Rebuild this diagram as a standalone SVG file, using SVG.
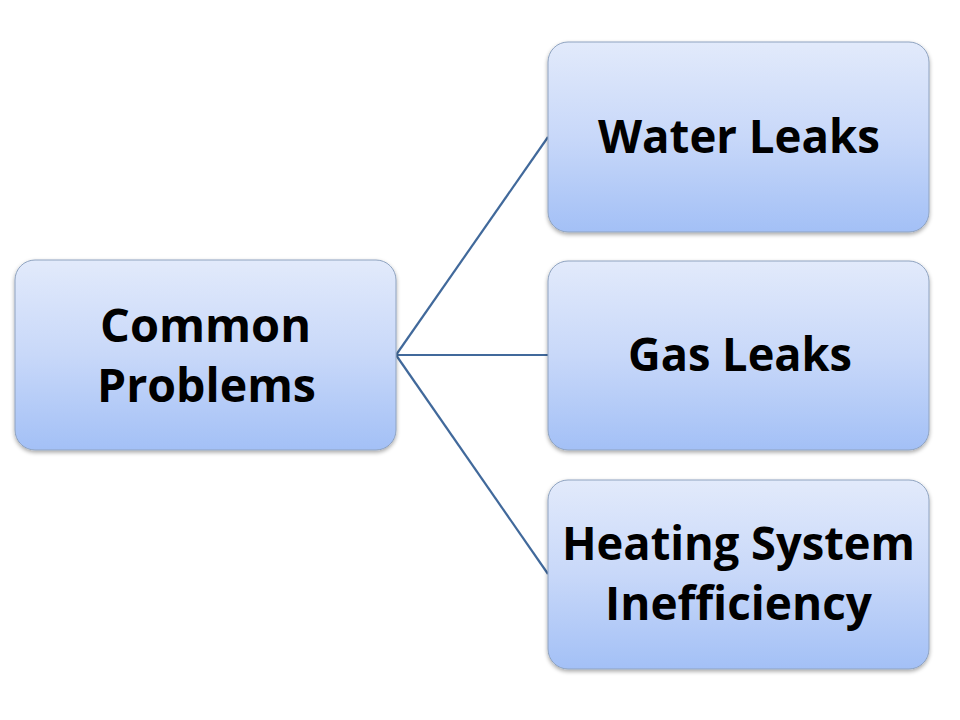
<svg xmlns="http://www.w3.org/2000/svg" width="960" height="720" viewBox="0 0 960 720">
<defs>
<linearGradient id="g" x1="0" y1="0" x2="0" y2="1">
<stop offset="0" stop-color="#E2EAFB"/>
<stop offset="0.5" stop-color="#C8D8F9"/>
<stop offset="1" stop-color="#A3C0F6"/>
</linearGradient>
<filter id="sh" x="-10%" y="-10%" width="120%" height="125%">
<feGaussianBlur in="SourceAlpha" stdDeviation="2"/>
<feOffset dy="2" result="b"/>
<feComponentTransfer><feFuncA type="linear" slope="0.35"/></feComponentTransfer>
<feMerge><feMergeNode/><feMergeNode in="SourceGraphic"/></feMerge>
</filter>
</defs>
<style>
.box{fill:url(#g);stroke:#8FA3C0;stroke-width:1;filter:url(#sh)}
.t{font-family:"Open Sans","Liberation Sans",sans-serif;font-weight:bold;font-size:46px;fill:#000;text-anchor:middle}
.c{stroke:#41699B;stroke-width:2.2;fill:none}
</style>
<rect width="960" height="720" fill="#fff"/>
<g id="connectors">
<line class="c" x1="396" y1="355" x2="548" y2="137"/>
<line class="c" x1="396" y1="355" x2="548" y2="355"/>
<line class="c" x1="396" y1="355" x2="548" y2="574"/>
</g>
<g id="common">
<rect class="box" x="15" y="260" width="381" height="190" rx="20"/>
<text class="t" x="205.5" y="342" textLength="211" lengthAdjust="spacingAndGlyphs">Common</text>
<text class="t" x="206.5" y="402" textLength="219" lengthAdjust="spacingAndGlyphs">Problems</text>
</g>
<g id="water">
<rect class="box" x="548" y="42" width="381" height="190" rx="20"/>
<text class="t" x="739" y="153" textLength="282" lengthAdjust="spacingAndGlyphs">Water Leaks</text>
</g>
<g id="gas">
<rect class="box" x="548" y="261" width="381" height="189" rx="20"/>
<text class="t" x="740" y="371" textLength="224" lengthAdjust="spacingAndGlyphs">Gas Leaks</text>
</g>
<g id="heating">
<rect class="box" x="548" y="480" width="381" height="189" rx="20"/>
<text class="t" x="738.5" y="560" textLength="353" lengthAdjust="spacingAndGlyphs">Heating System</text>
<text class="t" x="738.5" y="620" textLength="267" lengthAdjust="spacingAndGlyphs">Inefficiency</text>
</g>
</svg>
